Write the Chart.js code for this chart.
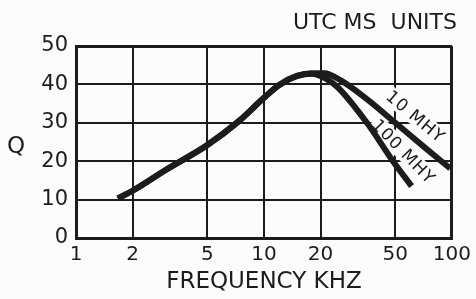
<!DOCTYPE html>
<html>
<head>
<meta charset="utf-8">
<script src="https://cdn.jsdelivr.net/npm/chart.js@4.4.0/dist/chart.umd.min.js"></script>
<style>
  html, body { margin: 0; padding: 0; background: #fcfcfb; }
  canvas { display: block; }
</style>
</head>
<body>
<canvas id="chart" width="476" height="299"></canvas>
<script>
// axis ticks
const freqTicks = [1, 2, 5, 10, 20, 50, 100];
const qTicks = [0, 10, 20, 30, 40, 50];

// Q vs frequency (kHz)
const freq10 = [1.67, 2, 3, 5, 7.3, 10, 12, 15, 18, 21, 25.5, 35, 50, 70, 98];
const q10 = [10.3, 12.3, 17.7, 24.2, 30.3, 36.5, 39.8, 42.2, 42.9, 42.9, 41.1, 36.3, 30, 24, 18.1];

const freq100 = [1.67, 2, 3, 5, 7.3, 10, 12, 15, 18, 20, 24.5, 35.3, 48.6, 61];
const q100 = [10.3, 12.3, 17.7, 24.2, 30.3, 36.5, 39.8, 42.2, 42.8, 42.2, 39.4, 30, 20, 13.5];

const seriesNames = ['10 MHY', '100 MHY'];

const ink = '#1c1c1c';
const paper = '#fcfcfb';
const family = '"DejaVu Sans", sans-serif';

// curve labels sit next to the lines, tilted along them
const curveLabels = [
  { text: seriesNames[0], f: 64, q: 31.6, angle: 40 },
  { text: seriesNames[1], f: 55.4, q: 22.5, angle: 46 }
];

const extraText = {
  id: 'extraText',
  beforeDatasetsDraw(chart) {
    const { ctx, scales: { x, y } } = chart;
    ctx.save();
    ctx.font = '17px ' + family;
    ctx.letterSpacing = '1px';
    ctx.textAlign = 'center';
    ctx.textBaseline = 'middle';
    curveLabels.forEach(l => {
      const w = ctx.measureText(l.text).width;
      ctx.save();
      ctx.translate(x.getPixelForValue(l.f), y.getPixelForValue(l.q));
      ctx.rotate(l.angle * Math.PI / 180);
      ctx.fillStyle = paper;
      ctx.fillRect(-w / 2 - 2, -9, w + 4, 18);
      ctx.fillStyle = ink;
      ctx.fillText(l.text, 0, 1);
      ctx.restore();
    });
    ctx.restore();
  },
  afterDraw(chart) {
    const { ctx, chartArea } = chart;
    ctx.save();
    ctx.fillStyle = ink;
    ctx.font = '23px ' + family;
    ctx.textAlign = 'center';
    ctx.textBaseline = 'middle';
    ctx.fillText('Q', 16, (chartArea.top + chartArea.bottom) / 2 + 5);
    ctx.restore();
  }
};

const bg = {
  id: 'bg',
  beforeDraw(chart) {
    const ctx = chart.ctx;
    ctx.save();
    ctx.fillStyle = paper;
    ctx.fillRect(0, 0, chart.width, chart.height);
    ctx.restore();
  }
};

const toPoints = (fs, qs) => fs.map((f, i) => ({ x: f, y: qs[i] }));

new Chart(document.getElementById('chart'), {
  type: 'line',
  data: {
    datasets: [
      {
        label: seriesNames[0],
        data: toPoints(freq10, q10),
        borderColor: ink,
        borderWidth: 6,
        pointRadius: 0,
        cubicInterpolationMode: 'monotone'
      },
      {
        label: seriesNames[1],
        data: toPoints(freq100, q100),
        borderColor: ink,
        borderWidth: 6,
        pointRadius: 0,
        cubicInterpolationMode: 'monotone'
      }
    ]
  },
  options: {
    responsive: false,
    animation: false,
    layout: { padding: { top: 10, right: 19, left: 0, bottom: 0 } },
    plugins: {
      legend: { display: false },
      tooltip: { enabled: false },
      title: {
        display: true,
        text: 'UTC MS  UNITS',
        align: 'end',
        color: ink,
        font: { family: family, size: 22, weight: 'normal' },
        padding: { top: 0, bottom: 9.6 }
      }
    },
    scales: {
      x: {
        type: 'logarithmic',
        min: 1,
        max: 100,
        afterBuildTicks: s => { s.ticks = freqTicks.map(v => ({ value: v })); },
        afterFit: s => { s.height = 61; },
        grid: {
          color: ink,
          lineWidth: c => (c.tick && c.tick.value === 100 ? 3 : 2),
          drawTicks: false
        },
        border: { color: ink, width: 3 },
        ticks: {
          color: ink,
          font: { family: family, size: 20 },
          padding: 5,
          autoSkip: false,
          maxRotation: 0,
          callback: v => String(v)
        },
        title: {
          display: true,
          text: 'FREQUENCY KHZ',
          color: ink,
          font: { family: family, size: 23 },
          padding: { top: 0, bottom: 3 }
        }
      },
      y: {
        min: 0,
        max: 50,
        afterBuildTicks: s => { s.ticks = qTicks.map(v => ({ value: v })); },
        afterFit: s => { s.width = 76; },
        grid: {
          color: ink,
          lineWidth: c => (c.tick && c.tick.value === 50 ? 3 : 2),
          drawTicks: false
        },
        border: { color: ink, width: 3 },
        ticks: {
          color: ink,
          font: { family: family, size: 21 },
          padding: 8
        }
      }
    }
  },
  plugins: [bg, extraText]
});
</script>
</body>
</html>
